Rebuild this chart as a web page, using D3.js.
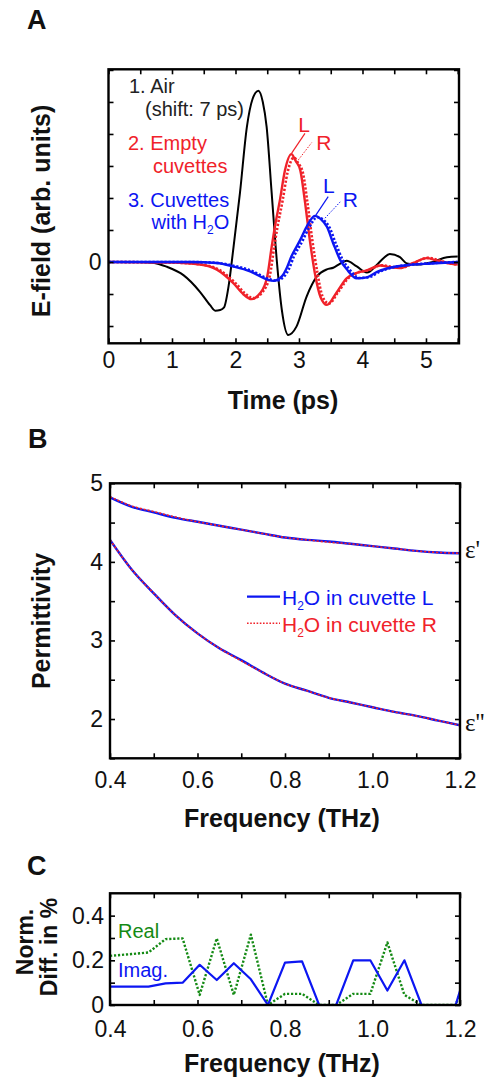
<!DOCTYPE html>
<html>
<head>
<meta charset="utf-8">
<script src="https://cdn.jsdelivr.net/npm/d3@7"></script>
<style>
  body { margin: 0; background: #fff; }
  text { font-family: "Liberation Sans", Arial, sans-serif; }
</style>
</head>
<body>
<div id="fig"></div>
<script>
// ---- panel A: time traces (arb. units) ----
var airT = [0, 0.5, 0.7, 0.92, 1.18, 1.44, 1.6, 1.68, 1.76, 1.82, 1.89, 1.97, 2.07, 2.18, 2.27, 2.36, 2.43, 2.49, 2.57, 2.65, 2.73, 2.83, 2.96, 3.12, 3.28, 3.44, 3.54, 3.65, 3.75, 3.91, 4.07, 4.22, 4.33, 4.43, 4.59, 4.70, 4.85, 5.11, 5.33, 5.5];
var airV = [0, 0, -0.02, -0.15, -0.41, -0.93, -1.35, -1.52, -1.5, -1.42, -0.77, 0.48, 2.15, 4.23, 5.1, 5.35, 5.0, 4.23, 2.15, 0.06, -1.5, -2.28, -2.02, -1.08, -0.46, -0.23, -0.18, -0.05, 0.04, -0.14, -0.33, -0.1, 0.12, 0.25, 0.15, -0.05, -0.08, 0, 0.15, 0.17];

var emptyLT = [0, 1.0, 1.44, 1.70, 1.97, 2.12, 2.25, 2.39, 2.5, 2.57, 2.62, 2.70, 2.78, 2.88, 2.95, 3.02, 3.09, 3.17, 3.25, 3.34, 3.44, 3.59, 3.75, 3.91, 4.07, 4.28, 4.43, 4.59, 4.80, 5.01, 5.17, 5.33, 5.5];
var emptyLV = [0, -0.02, -0.08, -0.23, -0.67, -1.0, -1.16, -0.97, -0.45, 0.48, 1.1, 1.94, 2.87, 3.37, 3.15, 2.87, 1.94, 0.69, -0.35, -1.1, -1.34, -0.96, -0.51, -0.34, -0.26, -0.11, -0.16, -0.19, -0.03, 0.12, 0.05, -0.03, -0.08];
var emptyRT = [0, 1.0, 1.46, 1.73, 2.0, 2.15, 2.28, 2.42, 2.54, 2.61, 2.66, 2.74, 2.82, 2.92, 2.99, 3.06, 3.13, 3.21, 3.29, 3.37, 3.47, 3.62, 3.78, 3.93, 4.1, 4.3, 4.46, 4.61, 4.82, 5.03, 5.19, 5.35, 5.5];
var emptyRV = [0, -0.02, -0.08, -0.23, -0.66, -0.98, -1.13, -0.95, -0.43, 0.48, 1.08, 1.9, 2.8, 3.26, 3.08, 2.8, 1.9, 0.68, -0.34, -1.07, -1.3, -0.93, -0.5, -0.33, -0.25, -0.1, -0.15, -0.18, -0.02, 0.13, 0.06, -0.03, -0.09];

var waterLT = [0, 1.3, 1.70, 1.97, 2.23, 2.49, 2.6, 2.73, 2.80, 2.88, 3.02, 3.12, 3.25, 3.34, 3.44, 3.54, 3.65, 3.75, 3.91, 4.07, 4.23, 4.43, 4.70, 4.96, 5.22, 5.5];
var waterLV = [0, 0, -0.03, -0.14, -0.29, -0.54, -0.59, -0.45, -0.22, 0.17, 0.69, 1.1, 1.44, 1.35, 1.1, 0.58, 0.06, -0.22, -0.51, -0.48, -0.31, -0.18, -0.10, -0.06, -0.03, 0];
var waterRT = [0, 1.3, 1.72, 2.0, 2.26, 2.52, 2.64, 2.77, 2.84, 2.92, 3.06, 3.16, 3.29, 3.38, 3.48, 3.58, 3.69, 3.79, 3.95, 4.11, 4.27, 4.47, 4.73, 4.99, 5.25, 5.5];
var waterRV = [0, 0, -0.03, -0.13, -0.28, -0.53, -0.58, -0.44, -0.22, 0.17, 0.68, 1.08, 1.40, 1.32, 1.08, 0.57, 0.06, -0.22, -0.5, -0.47, -0.3, -0.17, -0.09, -0.05, -0.02, 0];

// ---- panel B: permittivity ----
var freqB = [0.4, 0.45, 0.5, 0.55, 0.6, 0.65, 0.7, 0.75, 0.8, 0.85, 0.9, 0.95, 1.0, 1.05, 1.1, 1.15, 1.2];
var epsRealL = [4.82, 4.70, 4.63, 4.56, 4.51, 4.46, 4.41, 4.36, 4.31, 4.28, 4.26, 4.23, 4.20, 4.17, 4.14, 4.12, 4.11];
var epsRealR = [4.83, 4.71, 4.64, 4.57, 4.51, 4.46, 4.41, 4.36, 4.31, 4.28, 4.25, 4.23, 4.20, 4.17, 4.14, 4.12, 4.11];
var epsImagL = [4.28, 3.90, 3.60, 3.32, 3.09, 2.90, 2.75, 2.59, 2.45, 2.36, 2.27, 2.21, 2.15, 2.09, 2.04, 1.98, 1.92];
var epsImagR = [4.28, 3.90, 3.60, 3.32, 3.09, 2.90, 2.74, 2.59, 2.45, 2.36, 2.27, 2.21, 2.15, 2.09, 2.04, 1.98, 1.92];

// ---- panel C: normalised difference (%) ----
var freqC = [0.4, 0.449, 0.488, 0.527, 0.566, 0.605, 0.644, 0.683, 0.722, 0.761, 0.800, 0.839, 0.878, 0.917, 0.956, 0.995, 1.034, 1.073, 1.112, 1.151, 1.190, 1.229];
var diffReal = [0.22, 0.228, 0.235, 0.295, 0.298, 0.045, 0.298, 0.045, 0.315, 0, 0.05, 0.05, 0, 0, 0.05, 0.05, 0.28, 0.045, 0, 0, 0, 0.2];
var diffImag = [0.082, 0.082, 0.082, 0.097, 0.10, 0.18, 0.112, 0.187, 0.115, 0, 0.19, 0.195, 0, 0, 0.2, 0.2, 0.065, 0.2, 0, 0, 0, 0.25];

var RED = "#f0222a", BLUE = "#0c16f2", GREEN = "#148a14";

var svg = d3.select("#fig")
    .append("svg")
    .attr("width", 494)
    .attr("height", 1082);

function zip(xs, ys) {
    return xs.map(function (d, i) { return [d, ys[i]]; });
}

// inward ticks on all four sides + box
function frame(x, y, xTicks, yTicks, xFmt, yFmt, xOff, yOff) {
    var xl = x.range()[0], xr = x.range()[1], yb = y.range()[0], yt = y.range()[1];
    var g = svg.append("g");
    var bottom = g.append("g").attr("transform", "translate(0," + yb + ")")
        .call(d3.axisBottom(x).tickValues(xTicks).tickSize(-5).tickFormat(xFmt));
    bottom.selectAll("text").attr("y", xOff).attr("dy", 0);
    g.append("g").attr("transform", "translate(0," + yt + ")")
        .call(d3.axisTop(x).tickValues(xTicks).tickSize(-5).tickFormat(""));
    var left = g.append("g").attr("transform", "translate(" + xl + ",0)")
        .call(d3.axisLeft(y).tickValues(yTicks).tickSize(-5).tickFormat(yFmt));
    left.selectAll("text").attr("x", -yOff);
    g.append("g").attr("transform", "translate(" + xr + ",0)")
        .call(d3.axisRight(y).tickValues(yTicks).tickSize(-5).tickFormat(""));
    g.selectAll(".domain").remove();
    g.selectAll(".tick line").attr("stroke", "#000").attr("stroke-width", 1.6);
    g.selectAll(".tick text").attr("font-size", "23px").attr("fill", "#111")
        .style("font-family", "'Liberation Sans', Arial, sans-serif");
    g.append("rect")
        .attr("x", xl).attr("y", yt)
        .attr("width", xr - xl).attr("height", yb - yt)
        .attr("fill", "none").attr("stroke", "#000").attr("stroke-width", 2.4);
}

function clipFor(id, x, y) {
    svg.append("clipPath").attr("id", id).append("rect")
        .attr("x", x.range()[0]).attr("y", y.range()[1])
        .attr("width", x.range()[1] - x.range()[0])
        .attr("height", y.range()[0] - y.range()[1]);
    return svg.append("g").attr("clip-path", "url(#" + id + ")");
}

function curve(g, line, pts, color, dotted, w) {
    g.append("path")
        .datum(pts)
        .attr("d", line)
        .attr("fill", "none")
        .attr("stroke", color)
        .attr("stroke-width", w)
        .attr("stroke-dasharray", dotted ? "2.2,1.8" : null)
        .attr("stroke-linejoin", "round");
}

function label(txt, x, y, size, opts) {
    opts = opts || {};
    return svg.append("text")
        .attr("x", x).attr("y", y)
        .attr("font-size", size + "px")
        .attr("font-weight", opts.bold ? "bold" : null)
        .attr("text-anchor", opts.anchor || "start")
        .attr("fill", opts.fill || "#111")
        .attr("transform", opts.rotate ? "rotate(-90," + x + "," + y + ")" : null)
        .text(txt);
}

// ================= A =================
var xA = d3.scaleLinear().domain([0, 5.52]).range([108.5, 459]);
var yA = d3.scaleLinear().domain([-2.54, 6.02]).range([343.3, 69.3]);
var lineA = d3.line()
    .x(function (d) { return xA(d[0]); })
    .y(function (d) { return yA(d[1]); })
    .curve(d3.curveMonotoneX);

var gA = clipFor("clipA", xA, yA);
curve(gA, lineA, zip(airT, airV), "#000", false, 2);
curve(gA, lineA, zip(emptyLT, emptyLV), RED, false, 2.4);
curve(gA, lineA, zip(emptyRT, emptyRV), RED, true, 2.6);
curve(gA, lineA, zip(waterLT, waterLV), BLUE, false, 2.4);
curve(gA, lineA, zip(waterRT, waterRV), BLUE, true, 2.6);

frame(xA, yA, d3.range(0, 5.51, 0.5), d3.range(-2, 6.1, 1),
    function (d) { return Number.isInteger(d) ? d : ""; },
    function (d) { return d === 0 ? "0" : ""; }, 25, 7);

// L / R pointers
var pointers = [
    { from: [2.885, 3.40], to: [3.094, 4.02], color: RED, dotted: false, txt: "L", at: [2.99, 4.06] },
    { from: [2.99, 3.19], to: [3.20, 3.73], color: RED, dotted: true, txt: "R", at: [3.27, 3.5] },
    { from: [3.25, 1.42], to: [3.46, 2.04], color: BLUE, dotted: false, txt: "L", at: [3.38, 2.16] },
    { from: [3.41, 1.37], to: [3.65, 1.88], color: BLUE, dotted: true, txt: "R", at: [3.69, 1.72] }
];
pointers.forEach(function (p) {
    svg.append("line")
        .attr("x1", xA(p.from[0])).attr("y1", yA(p.from[1]))
        .attr("x2", xA(p.to[0])).attr("y2", yA(p.to[1]))
        .attr("stroke", p.color).attr("stroke-width", p.dotted ? 1 : 1.2)
        .attr("stroke-dasharray", p.dotted ? "1.5,1.5" : null);
    label(p.txt, xA(p.at[0]), yA(p.at[1]), 21, { fill: p.color });
});

label("1. Air", 129, 93, 20, { fill: "#222" });
label("(shift: 7 ps)", 145, 115.5, 20, { fill: "#222" });
label("2. Empty", 128, 150, 20, { fill: RED });
label("cuvettes", 153, 173, 20, { fill: RED });
label("3. Cuvettes", 128, 206.5, 20, { fill: BLUE });
var w = label("with H", 151.5, 229, 20, { fill: BLUE });
w.append("tspan").attr("font-size", "12px").attr("dy", 5).text("2");
w.append("tspan").attr("dy", -5).text("O");

label("A", 27, 29, 27, { bold: true });
label("E-field (arb. units)", 50, 211, 25, { bold: true, anchor: "middle", rotate: true });
label("Time (ps)", 283, 409, 25, { bold: true, anchor: "middle" });

// ================= B =================
var xB = d3.scaleLinear().domain([0.4, 1.2]).range([110, 460]);
var yB = d3.scaleLinear().domain([1.5, 5]).range([758.3, 483.3]);
var lineB = d3.line()
    .x(function (d) { return xB(d[0]); })
    .y(function (d) { return yB(d[1]); })
    .curve(d3.curveMonotoneX);

var gB = clipFor("clipB", xB, yB);
curve(gB, lineB, zip(freqB, epsRealL), BLUE, false, 2.4);
curve(gB, lineB, zip(freqB, epsRealR), RED, true, 1.6);
curve(gB, lineB, zip(freqB, epsImagL), BLUE, false, 2.4);
curve(gB, lineB, zip(freqB, epsImagR), RED, true, 1.6);

frame(xB, yB, d3.range(0.4, 1.201, 0.1).map(function (d) { return +d.toFixed(1); }),
    d3.range(1.5, 5.01, 0.5),
    function (d) { return [0.4, 0.6, 0.8, 1.0, 1.2].indexOf(d) >= 0 ? d.toFixed(1) : ""; },
    function (d) { return Number.isInteger(d) ? d : ""; }, 30, 7);

// legend
svg.append("line").attr("x1", 247).attr("x2", 280).attr("y1", 596.7).attr("y2", 596.7)
    .attr("stroke", BLUE).attr("stroke-width", 2.2);
svg.append("line").attr("x1", 247).attr("x2", 280).attr("y1", 623.3).attr("y2", 623.3)
    .attr("stroke", RED).attr("stroke-width", 1.6).attr("stroke-dasharray", "1.6,1.6");
var l1 = label("H", 282, 605, 21, { fill: BLUE });
l1.append("tspan").attr("font-size", "12px").attr("dy", 5).text("2");
l1.append("tspan").attr("dy", -5).text("O in cuvette L");
var l2 = label("H", 282, 632, 21, { fill: RED });
l2.append("tspan").attr("font-size", "12px").attr("dy", 5).text("2");
l2.append("tspan").attr("dy", -5).text("O in cuvette R");

label("\u03b5'", 465, 558, 25, { fill: "#111" }).style("font-family", "'Liberation Serif', serif");
label("\u03b5''", 465, 731, 25, { fill: "#111" }).style("font-family", "'Liberation Serif', serif");

label("B", 28, 448, 27, { bold: true });
label("Permittivity", 50, 621, 25, { bold: true, anchor: "middle", rotate: true });
label("Frequency (THz)", 282, 827, 25, { bold: true, anchor: "middle" });

// ================= C =================
var xC = d3.scaleLinear().domain([0.4, 1.2]).range([110, 460]);
var yC = d3.scaleLinear().domain([0, 0.5]).range([1005, 893.3]);
var lineC = d3.line()
    .x(function (d) { return xC(d[0]); })
    .y(function (d) { return yC(d[1]); });

var gC = clipFor("clipC", xC, yC);
curve(gC, lineC, zip(freqC, diffReal), GREEN, true, 2.4);
curve(gC, lineC, zip(freqC, diffImag), BLUE, false, 2.2);

frame(xC, yC, d3.range(0.4, 1.201, 0.1).map(function (d) { return +d.toFixed(1); }),
    [0, 0.1, 0.2, 0.3, 0.4],
    function (d) { return [0.4, 0.6, 0.8, 1.0, 1.2].indexOf(d) >= 0 ? d.toFixed(1) : ""; },
    function (d) { return d === 0 ? "0" : (d === 0.2 || d === 0.4 ? d.toFixed(1) : ""); }, 31.7, 6);

label("Real", 118, 938, 20, { fill: GREEN });
label("Imag.", 118, 977, 20, { fill: BLUE });

label("C", 27, 875, 27, { bold: true });
label("Norm.", 33, 942, 23, { bold: true, anchor: "middle", rotate: true });
label("Diff. in %", 57, 947, 23, { bold: true, anchor: "middle", rotate: true });
label("Frequency (THz)", 282, 1072, 25, { bold: true, anchor: "middle" });
</script>
</body>
</html>
